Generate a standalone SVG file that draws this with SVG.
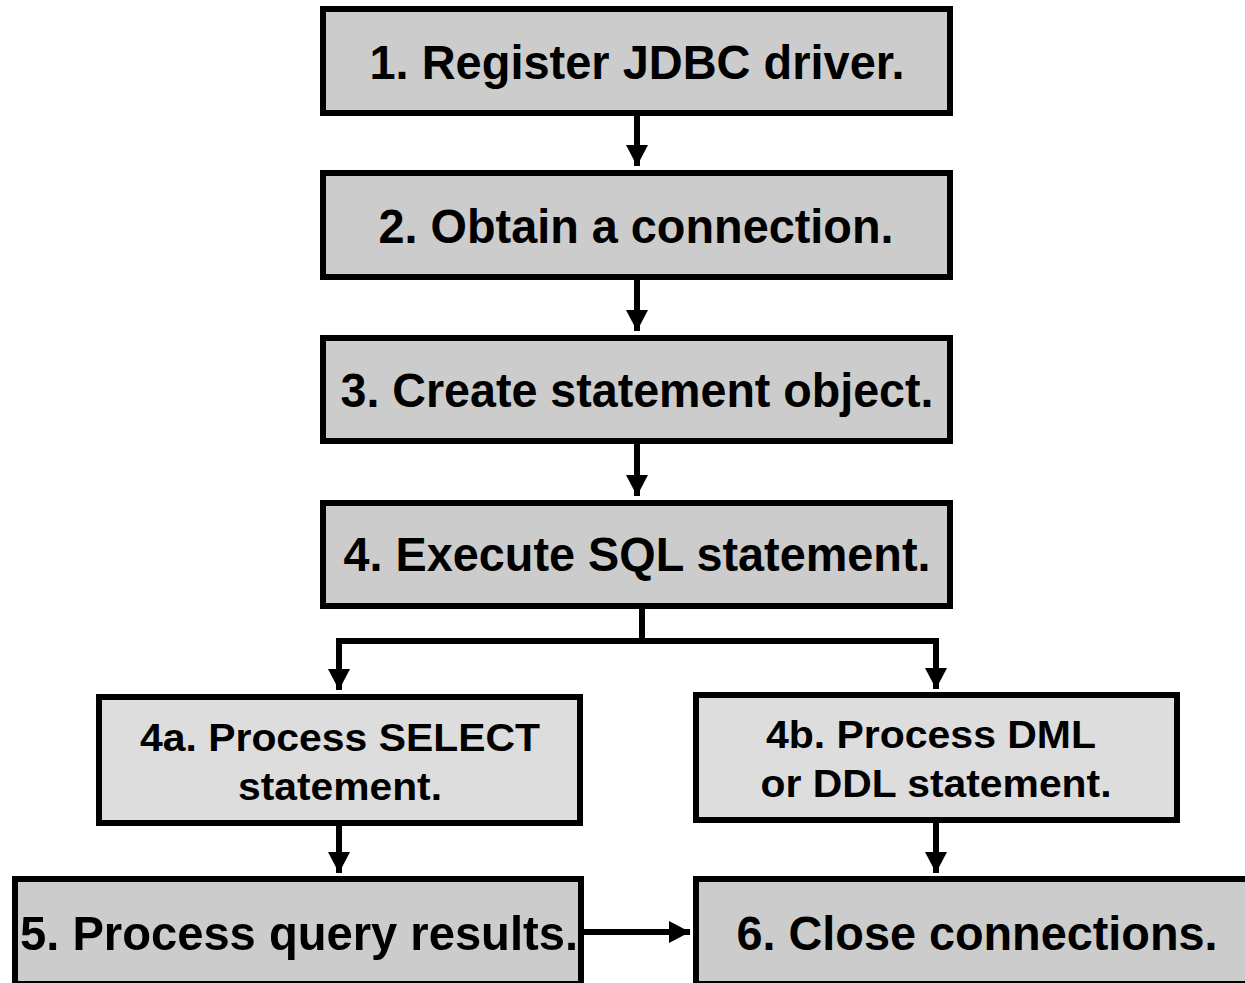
<svg xmlns="http://www.w3.org/2000/svg" width="1245" height="983" viewBox="0 0 1245 983">
<style>
.box{fill:#cccccc;stroke:#000;stroke-width:6}
.lbox{fill:#dddddd;stroke:#000;stroke-width:6}
.big{font-family:"Liberation Sans",Arial,sans-serif;font-weight:bold;font-size:49px;fill:#000;text-anchor:middle}
.mid{font-family:"Liberation Sans",Arial,sans-serif;font-weight:bold;font-size:38px;fill:#000;text-anchor:middle}
.conn{fill:none;stroke:#000;stroke-width:6}
</style>
<defs>
<marker id="ah" markerUnits="userSpaceOnUse" markerWidth="22" markerHeight="22" refX="21" refY="11" orient="auto">
<path d="M0,0 L21,11 L0,22 z" fill="#000"/>
</marker>
</defs>
<rect width="1245" height="983" fill="#fff"/>
<g id="connectors">
<path class="conn" d="M637,116 V166" marker-end="url(#ah)"/>
<path class="conn" d="M637,280 V331" marker-end="url(#ah)"/>
<path class="conn" d="M637,444 V496" marker-end="url(#ah)"/>
<path class="conn" d="M642,609 V641"/>
<path class="conn" d="M642,641 H339 V690" marker-end="url(#ah)"/>
<path class="conn" d="M642,641 H936 V689" marker-end="url(#ah)"/>
<path class="conn" d="M339,826 V873" marker-end="url(#ah)"/>
<path class="conn" d="M936,823 V873" marker-end="url(#ah)"/>
<path class="conn" d="M583,932 H690" marker-end="url(#ah)"/>
</g>
<g id="n1"><rect class="box" x="323" y="9" width="627" height="104"/><text class="big" x="637" y="79" textLength="535" lengthAdjust="spacingAndGlyphs">1. Register JDBC driver.</text></g>
<g id="n2"><rect class="box" x="323" y="173" width="627" height="104"/><text class="big" x="636" y="243" textLength="515" lengthAdjust="spacingAndGlyphs">2. Obtain a connection.</text></g>
<g id="n3"><rect class="box" x="323" y="338" width="627" height="103"/><text class="big" x="637" y="407" textLength="593" lengthAdjust="spacingAndGlyphs">3. Create statement object.</text></g>
<g id="n4"><rect class="box" x="323" y="503" width="627" height="103"/><text class="big" x="637" y="571" textLength="587" lengthAdjust="spacingAndGlyphs">4. Execute SQL statement.</text></g>
<g id="n4a"><rect class="lbox" x="99" y="697" width="481" height="126"/><text class="mid" x="340" y="751" textLength="400" lengthAdjust="spacingAndGlyphs">4a. Process SELECT</text><text class="mid" x="340" y="800" textLength="204" lengthAdjust="spacingAndGlyphs">statement.</text></g>
<g id="n4b"><rect class="lbox" x="696" y="695" width="481" height="125"/><text class="mid" x="931" y="748" textLength="330" lengthAdjust="spacingAndGlyphs">4b. Process DML</text><text class="mid" x="936" y="797" textLength="351" lengthAdjust="spacingAndGlyphs">or DDL statement.</text></g>
<g id="n5"><rect class="box" x="15" y="879" width="566" height="105"/><text class="big" x="299" y="950" textLength="558" lengthAdjust="spacingAndGlyphs">5. Process query results.</text></g>
<g id="n6"><rect class="box" x="696" y="879" width="560" height="105"/><text class="big" x="977" y="950" textLength="481" lengthAdjust="spacingAndGlyphs">6. Close connections.</text></g>
</svg>
